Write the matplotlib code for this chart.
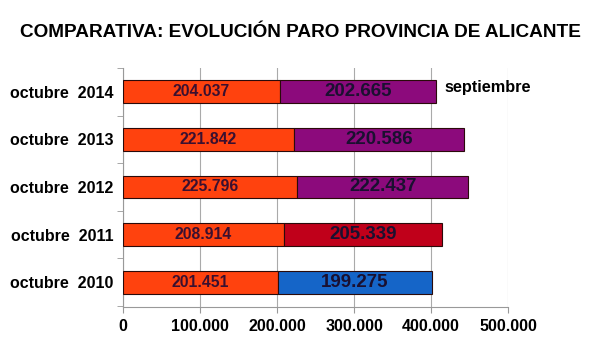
import matplotlib
matplotlib.use("Agg")
import matplotlib.pyplot as plt

categories = ["octubre  2010", "octubre  2011", "octubre  2012", "octubre  2013", "octubre  2014"]
octubre_vals = [201451, 208914, 225796, 221842, 204037]
sept_vals = [199275, 205339, 222437, 220586, 202665]
sept_colors = ["#1565c8", "#c0001a", "#8c0a7c", "#8c0a7c", "#8c0a7c"]
octubre_color = "#ff420e"
xticks = [0, 100000, 200000, 300000, 400000, 500000]
xticklabels = ["0", "100.000", "200.000", "300.000", "400.000", "500.000"]

def fmt(v):
    return f"{v:,}".replace(",", ".")

plt.rcParams['font.family'] = ['Liberation Sans', 'DejaVu Sans']
fig = plt.figure(figsize=(6.0, 3.56), dpi=100)
ax = fig.add_axes([0.205, 0.138, 0.642, 0.671])

y = list(range(len(categories)))
ax.barh(y, octubre_vals, height=0.48, color=octubre_color, edgecolor="#2a0a0a", linewidth=0.8, zorder=3)
ax.barh(y, sept_vals, left=octubre_vals, height=0.48, color=sept_colors, edgecolor="#2a0a0a", linewidth=0.8, zorder=3)

for i in y:
    ax.text(octubre_vals[i] / 2, i, fmt(octubre_vals[i]), ha="center", va="center",
            fontsize=11.3, fontweight="bold", color="#3a1030", zorder=4)
    ax.text(octubre_vals[i] + sept_vals[i] / 2, i, fmt(sept_vals[i]), ha="center", va="center",
            fontsize=13.5, fontweight="bold", color="#1a1030", zorder=4)

last = len(categories) - 1
ax.text(octubre_vals[last] + sept_vals[last] + 10000, last + 0.08, "septiembre", ha="left", va="center",
        fontsize=11.7, fontweight="bold", color="black", zorder=4, clip_on=False)

ax.set_xlim(0, 500000)
ax.set_ylim(-0.52, 4.48)
ax.set_xticks(xticks)
ax.set_xticklabels(xticklabels, fontsize=11.5, fontweight="bold")
ax.set_yticks(y)
ax.set_yticklabels(categories, fontsize=11.5, fontweight="bold")
ax.set_yticks([i - 0.5 for i in range(len(categories) + 1)], minor=True)
ax.tick_params(axis="y", which="major", length=0, pad=7)
ax.tick_params(axis="y", which="minor", length=4, color="#999999")
ax.tick_params(axis="x", length=4, color="#999999", pad=5)
ax.grid(axis="x", color="#aaaaaa", linewidth=0.8, zorder=0)
for s in ["top", "right"]:
    ax.spines[s].set_visible(False)
ax.spines["left"].set_color("#999999")
ax.spines["bottom"].set_color("#999999")

fig.text(0.5, 0.91, "COMPARATIVA: EVOLUCIÓN PARO PROVINCIA DE ALICANTE", ha="center", va="center",
         fontsize=13.7, fontweight="bold")

fig.savefig("out.png", dpi=100, facecolor="white")
